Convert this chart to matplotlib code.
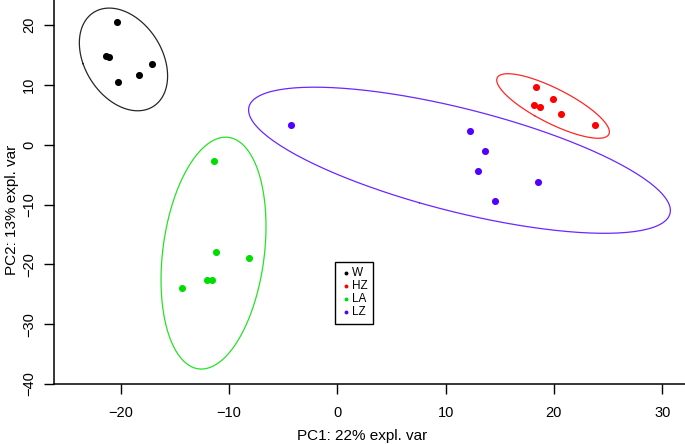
import numpy as np
import matplotlib
matplotlib.use("Agg")
import matplotlib.pyplot as plt

plt.rcParams["font.family"] = ["Liberation Sans", "DejaVu Sans"]

groups = ["W", "HZ", "LA", "LZ"]
colors = ["#000000", "#FF0000", "#00DD00", "#5200FF"]

# PC1 / PC2 scores
w_pc1 = [-20.35, -21.34, -21.09, -17.12, -18.32, -20.2]
w_pc2 = [20.55, 14.83, 14.6, 13.45, 11.6, 10.55]

hz_pc1 = [18.34, 19.91, 18.15, 18.71, 20.62, 23.79]
hz_pc2 = [9.72, 7.72, 6.67, 6.33, 5.22, 3.22]

la_pc1 = [-11.36, -11.2, -8.15, -11.98, -11.52, -14.34]
la_pc2 = [-2.67, -17.89, -19.0, -22.6, -22.6, -23.94]

lz_pc1 = [-4.31, 12.24, 13.66, 12.95, 18.56, 14.58]
lz_pc2 = [3.33, 2.28, -1.11, -4.33, -6.28, -9.44]

pc1 = [w_pc1, hz_pc1, la_pc1, lz_pc1]
pc2 = [w_pc2, hz_pc2, la_pc2, lz_pc2]

x_ticks = [-20, -10, 0, 10, 20, 30]
y_ticks = [-40, -30, -20, -10, 0, 10, 20]


def conf_ellipse(x, y, level=0.95, n=200):
    # 95% confidence ellipse from the group covariance
    pts = np.column_stack([x, y])
    centre = pts.mean(axis=0)
    cov = np.cov(pts, rowvar=False)
    vals, vecs = np.linalg.eigh(cov)
    scale = np.sqrt(-2 * np.log(1 - level))
    t = np.linspace(0, 2 * np.pi, n)
    circle = np.vstack([np.cos(t), np.sin(t)])
    ell = vecs @ (np.sqrt(vals)[:, None] * circle) * scale
    return centre[0] + ell[0], centre[1] + ell[1]


fig = plt.figure(
    figsize=(6.85, 4.44),
    dpi=100,
)

ax = fig.add_axes(
    [54 / 685, 1 - 384 / 444, 631 / 685, 384 / 444]
)

for g, col, xs, ys in zip(groups, colors, pc1, pc2):
    ex, ey = conf_ellipse(xs, ys)
    ax.plot(
        ex,
        ey,
        color=col,
        lw=0.9,
        alpha=0.85,
    )
    ax.scatter(
        xs,
        ys,
        s=26,
        color=col,
        linewidths=0,
        label=g,
        zorder=3,
    )

ax.set_xlim(-26.15, 32.1)
ax.set_ylim(-40, 24.2)

ax.set_xticks(x_ticks)
ax.set_yticks(y_ticks)

for lab in ax.get_yticklabels():
    lab.set_rotation(90)
    lab.set_va("center")

ax.tick_params(
    labelsize=10.5,
    length=7,
    width=1,
)
ax.tick_params(axis="x", pad=9)
ax.tick_params(axis="y", pad=6)

ax.spines["top"].set_visible(False)
ax.spines["right"].set_visible(False)
ax.spines["left"].set_linewidth(1.1)
ax.spines["bottom"].set_linewidth(1.1)

ax.set_xlabel(
    "PC1: 22% expl. var",
    fontsize=11,
)
ax.xaxis.set_label_coords(
    (362 - 54) / 631,
    -(429 - 384) / 384,
)

ax.set_ylabel(
    "PC2: 13% expl. var",
    fontsize=11,
)
ax.yaxis.set_label_coords(
    -(54 - 19) / 631,
    (384 - 210) / 384,
)

leg = ax.legend(
    loc="center",
    bbox_to_anchor=((354 - 54) / 631, (384 - 292.7) / 384),
    fontsize=8.5,
    markerscale=0.55,
    handletextpad=0.0,
    handlelength=1.0,
    labelspacing=0.1,
    borderpad=0.45,
    fancybox=False,
    edgecolor="black",
    framealpha=1,
)
leg.get_frame().set_linewidth(1.0)

fig.savefig("out.png", dpi=100)
